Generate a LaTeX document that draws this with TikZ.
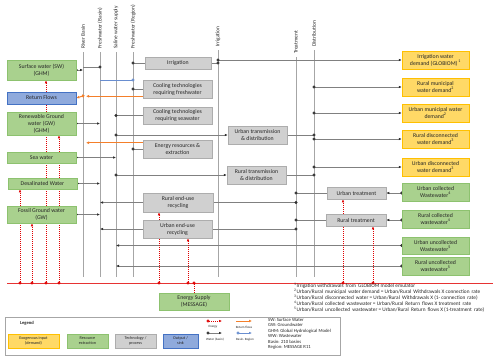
\documentclass[tikz,border=0pt]{standalone}
\usepackage{fontspec}
\setmainfont{Carlito}
\usepackage{xcolor}
\usepackage{tikz}
\usetikzlibrary{positioning,arrows.meta,calc,backgrounds}
\definecolor{wink}{HTML}{262626}
\definecolor{wwire}{HTML}{808080}
\definecolor{wdot}{HTML}{303030}
\definecolor{wbus}{HTML}{A6A6A6}
\definecolor{wgrn}{HTML}{A9D18E}
\definecolor{wgrnd}{HTML}{8DC26F}
\definecolor{wyel}{HTML}{FFD966}
\definecolor{wyeld}{HTML}{FFC000}
\definecolor{wgry}{HTML}{D0D0D0}
\definecolor{wgryd}{HTML}{ADADAD}
\definecolor{wblu}{HTML}{8FAADC}
\definecolor{wblud}{HTML}{4472C4}
\definecolor{wora}{HTML}{F47F2A}
\definecolor{wred}{HTML}{E00000}
\tikzset{
  >={Latex[length=3pt,width=2.6pt,color=wdot]},
  box/.style     ={draw=wgryd, fill=wgry, line width=0.5pt, inner sep=1pt, align=center,
                   text=wink, font=\fontsize{5.8}{7}\selectfont},
  gbox/.style    ={box, draw=wgrnd, fill=wgrn},
  ybox/.style    ={box, draw=wyeld, fill=wyel},
  bbox/.style    ={box, draw=wblud, fill=wblu},
  lbox/.style    ={font=\fontsize{4.2}{5}\selectfont, minimum height=14pt},
  buslabel/.style={rotate=90, anchor=west, inner sep=0pt, text=wink, font=\fontsize{5.4}{6}\selectfont},
  bus/.style     ={draw=wbus, line width=0.9pt},
  wire/.style    ={draw=wwire, line width=0.55pt},
  feed/.style    ={wire, {Circle[length=3pt,color=wdot]}->, shorten <=-1.5pt},
  tapline/.style ={wire, {Circle[length=3pt,color=wdot]}-, shorten <=-1.5pt},
  endline/.style ={wire, -{Circle[length=3pt,color=wdot]}, shorten >=-1.5pt},
  pipe/.style    ={wire, ->},
  eline/.style   ={draw=wred!80, line width=0.6pt},
  energy/.style  ={draw=wred, line width=0.6pt, dash pattern=on 1pt off 1pt,
                   {Circle[length=3pt]}-{Latex[length=3pt,width=2.6pt]}, shorten <=-1.5pt},
  esrc/.style    ={draw=wred, line width=0.6pt, dash pattern=on 1pt off 1pt,
                   {Circle[length=3pt]}-, shorten <=-1.5pt},
  rflow/.style   ={draw=wora, line width=1pt, -{Latex[length=3pt,width=2.8pt]}},
  rflowd/.style  ={rflow, {Circle[length=3pt]}-{Latex[length=3pt,width=2.8pt]}, shorten <=-1.5pt},
  bregion/.style ={draw=wblud!80, line width=0.6pt, -{Circle[length=3pt]}, shorten >=-1.5pt},
  bregionl/.style={draw=wblud!80, line width=0.6pt, {Circle[length=3pt]}-{Latex[length=3pt,width=2.6pt]},
                   shorten <=-1.5pt},
  ltext/.style   ={inner sep=0pt, text=wink, font=\fontsize{3.2}{4}\selectfont},
  note/.style    ={inner sep=0pt, align=left, text=wink},
}

\begin{document}
\begin{tikzpicture}[x=1pt, y=-1pt]
  \useasboundingbox (0,0) rectangle (500,360);
  \coordinate (rivb) at (83,52);
  \coordinate (fwb)  at (100,52);
  \coordinate (salb) at (116,52);
  \coordinate (fwr)  at (133,52);
  \coordinate (irrb) at (218,50);
  \coordinate (trtb) at (296,57);
  \coordinate (disb) at (314,50);
  \coordinate (busend) at (0,276.5);
  \coordinate (redL) at (7,283);
  \coordinate (redR) at (493,283);

  \node[buslabel] (rivbL) at ([yshift=3pt]rivb) {River Basin};
  \node[buslabel] (fwbL)  at ([yshift=3pt]fwb)  {Freshwater (Basin)};
  \node[buslabel] (salbL) at ([yshift=3pt]salb) {Saline water supply};
  \node[buslabel] (fwrL)  at ([yshift=3pt]fwr)  {Freshwater (Region)};
  \node[buslabel] (irrbL) at ([yshift=3pt]irrb) {Irrigation};
  \node[buslabel] (trtbL) at ([yshift=3pt]trtb) {Treatment};
  \node[buslabel] (disbL) at ([yshift=3pt]disb) {Distribution};

  \node[gbox, minimum width=69pt, minimum height=20pt] (sw)    at (41.5,70)    {Surface water (SW)\\(GHM)};
  \node[bbox, minimum width=69pt, minimum height=12pt] (rf)    at (41.5,98)    {Return Flows};
  \node[gbox, minimum width=69pt, minimum height=23pt] (rgw)   at (41.5,123.5) {Renewable Ground\\water (GW)\\(GHM)};
  \node[gbox, minimum width=69pt, minimum height=11pt] (sea)   at (41.5,157.5) {Sea water};
  \node[gbox, minimum width=69pt, minimum height=11pt] (desal) at (42.5,183.5) {Desalinated Water};
  \node[gbox, minimum width=69pt, minimum height=17pt] (fgw)   at (41.5,214.5) {Fossil Ground water\\(GW)};

  \node[box, minimum width=66pt, minimum height=12pt] (irr)   at (178,63)      {Irrigation};
  \node[box, minimum width=69pt, minimum height=18pt] (coolf) at (177.5,89)    {Cooling technologies\\requiring freshwater};
  \node[box, minimum width=69pt, minimum height=17pt] (cools) at (177.5,115.5) {Cooling technologies\\requiring seawater};
  \node[box, minimum width=69pt, minimum height=18pt] (enr)   at (177.5,149)   {Energy resources \&\\extraction};
  \node[box, minimum width=59pt, minimum height=18pt] (utd)   at (257.5,135)   {Urban transmission\\\& distribution};
  \node[box, minimum width=59pt, minimum height=18pt] (rtd)   at (256.5,175)   {Rural transmission\\\& distribution};
  \node[box, minimum width=70pt, minimum height=19pt] (reu)   at (178,202.5)   {Rural end-use\\recycling};
  \node[box, minimum width=69pt, minimum height=18pt] (ueu)   at (177.5,229)   {Urban end-use\\recycling};
  \node[box, minimum width=59pt, minimum height=12pt] (utr)   at (356.5,193)   {Urban treatment};
  \node[box, minimum width=60pt, minimum height=12pt] (rtr)   at (356,220)     {Rural treatment};

  \node[ybox, minimum width=67pt, minimum height=18pt] (iwd) at (435.5,60)    {Irrigation water\\demand (GLOBIOM)\,\textsuperscript{1}};
  \node[ybox, minimum width=67pt, minimum height=18pt] (rmd) at (435.5,87)    {Rural municipal\\water demand\textsuperscript{2}};
  \node[ybox, minimum width=67pt, minimum height=18pt] (umd) at (435.5,113)   {Urban municipal water\\demand\textsuperscript{2}};
  \node[ybox, minimum width=67pt, minimum height=18pt] (rdd) at (435.5,139)   {Rural disconnected\\water demand\textsuperscript{3}};
  \node[ybox, minimum width=67pt, minimum height=18pt] (udd) at (435.5,167)   {Urban disconnected\\water demand\textsuperscript{3}};
  \node[gbox, minimum width=67pt, minimum height=18pt] (ucw) at (435.5,192)   {Urban collected\\Wastewater\textsuperscript{4}};
  \node[gbox, minimum width=67pt, minimum height=18pt] (rcw) at (435.5,219)   {Rural collected\\wastewater\textsuperscript{4}};
  \node[gbox, minimum width=67pt, minimum height=17pt] (uuw) at (435.5,245.5) {Urban uncollected\\Wastewater\textsuperscript{5}};
  \node[gbox, minimum width=67pt, minimum height=18pt] (ruw) at (435.5,266)   {Rural uncollected\\wastewater\textsuperscript{5}};

  \node[gbox, minimum width=70pt, minimum height=17pt] (esup) at (194,301.5) {Energy Supply\\(MESSAGE)};

  \node[note, anchor=north west, font=\fontsize{5.3}{6}\selectfont] (fnotes) at (294,282.5)
    {\textsuperscript{1}Irrigation withdrawals\, from\, GLOBIOM model emulator\\
     \textsuperscript{2}Urban/Rural\, municipal\, water demand = Urban/Rural\, Withdrawals X connection\, rate\\
     \textsuperscript{3}Urban/Rural\, disconnected\, water = Urban/Rural\, Withdrawals X (1- connection\, rate)\\
     \textsuperscript{4}Urban/Rural\, collected\, wastewater = Urban/Rural\, Return\, flows X treatment\, rate\\
     \textsuperscript{5}Urban/Rural\, uncollected\, wastewater = Urban/Rural\, Return\, flows X (1-treatment\, rate)};

  \draw[draw=wbus, line width=0.5pt] (5,317) rectangle (340,355);
  \node[inner sep=0pt, text=wink, font=\bfseries\fontsize{4.6}{5}\selectfont] (lgdT) at (27,323) {Legend};
  \node[ybox, lbox, minimum width=51pt] (lexo)  at (33.5,341) {Exogenous input\\(demand)};
  \node[gbox, lbox, minimum width=41pt] (lres)  at (87.5,341) {Resource\\extraction};
  \node[box,  lbox, minimum width=41pt] (ltech) at (135.5,341) {Technology /\\process};
  \node[bbox, lbox, minimum width=35pt] (lout)  at (180.5,341) {Output /\\sink};
  \coordinate (leA) at (208,321);
  \coordinate (leB) at (222,321);
  \coordinate (lwA) at (208,333);
  \coordinate (lwB) at (222,333);
  \coordinate (lrA) at (236,321);
  \coordinate (lrB) at (252,321);
  \coordinate (lbA) at (238,333);
  \coordinate (lbB) at (252,333);
  \draw[energy] (leA) -- (leB);
  \draw[feed] (lwA) -- (lwB);
  \draw[rflow] (lrA) -- (lrB);
  \draw[bregionl] (lbA) -- (lbB);
  \node[ltext] (leT) at (213,327) {Energy};
  \node[ltext] (lwT) at (215,340) {Water (basin)};
  \node[ltext] (lrT) at (244,327) {Return flows};
  \node[ltext] (lbT) at (245,340) {Basin- Region};
  \node[note, anchor=north west, font=\fontsize{4.7}{5.4}\selectfont] (labbr) at (268,318)
    {SW: Surface Water\\GW: Groundwater\\GHM: Global Hydrological Model\\WW: Wastewater\\Basin: 210 basins\\Region: MESSAGE R11};

  \coordinate (cfo) at ($(coolf.south west)+(0,-2)$);
  \coordinate (rbo) at ($(rivb)+(0,44)$);
  \coordinate (eno) at ($(enr.north west)+(0,3)$);

  \begin{scope}[on background layer]
  \fill[white] (0,0) rectangle (500,360);
  \draw[bus] (rivb) -- (rivb |- busend);
  \draw[bus] (fwb)  -- (fwb |- busend);
  \draw[bus] (salb) -- (salb |- busend);
  \draw[bus] (fwr)  -- (fwr |- busend);
  \draw[bus] (irrb) -- (irrb |- busend);
  \draw[bus] (trtb) -- (trtb |- busend);
  \draw[bus] (disb) -- (disb |- busend);
  \draw[eline] (redL) -- (redR);

  \draw[feed] (sw.east) -- (sw.east -| rivb);
  \draw[endline] ($(rivb)+(0,15)$) -- ($(fwb)+(0,15)$);
  \draw[bregion] ($(fwb)+(0,28)$) -- ($(fwr)+(0,28)$);
  \draw[tapline] (irr.west -| fwr) -- (irr.west);
  \draw[tapline] (coolf.west -| fwr) -- (coolf.west);
  \draw[feed] (rgw.east) -- (rgw.east -| fwb);
  \draw[tapline] (cools.west -| salb) -- (cools.west);
  \draw[feed] (utd.west -| salb) -- (utd.west);
  \draw[tapline] (enr.west -| fwr) -- (enr.west);
  \draw[feed] (sea.east) -- (sea.east -| salb);
  \draw[feed] (rtd.west -| salb) -- (rtd.west);
  \draw[feed] (desal.east) -- (desal.east -| fwb);
  \draw[pipe] (reu.west) -- (reu.west -| fwb);
  \draw[feed] (fgw.east) -- (fgw.east -| fwb);
  \draw[pipe] (ueu.west) -- (ueu.west -| fwb);
  \draw[feed] (uuw.west) -- (uuw.west -| salb);
  \draw[feed] (ruw.west) -- (ruw.west -| salb);
  \draw[rflow] (cfo) -- ([xshift=3pt]cfo -| rivb);
  \draw[rflowd] (rbo) -- (rf.east);
  \draw[rflow] (eno) -- ([xshift=3pt]eno -| rivb);

  \draw[endline] (irr.east) -- (irr.east -| irrb);
  \draw[feed] (iwd.west -| irrb) -- (iwd.west);
  \draw[feed] (rmd.west -| disb) -- (rmd.west);
  \draw[feed] (umd.west -| disb) -- (umd.west);
  \draw[endline] (utd.east) -- (utd.east -| disb);
  \draw[feed] (rdd.west -| disb) -- (rdd.west);
  \draw[feed] (udd.west -| disb) -- (udd.west);
  \draw[endline] (rtd.east) -- (rtd.east -| disb);
  \draw[tapline] (utr.west -| trtb) -- (utr.west);
  \draw[endline] (reu.east) -- (reu.east -| trtb);
  \draw[tapline] (rtr.west -| trtb) -- (rtr.west);
  \draw[endline] (ueu.east) -- (ueu.east -| trtb);
  \draw[feed] (ucw.west |- utr.east) -- (utr.east);
  \draw[feed] (rcw.west |- rtr.east) -- (rtr.east);

  \coordinate (tdes) at (20,283);
  \coordinate (tfgw) at (32,283);
  \coordinate (tsw)  at (46,283);
  \coordinate (trgw) at (59,283);
  \coordinate (treu) at (159,283);
  \coordinate (tueu) at (188,283);
  \coordinate (tesp) at (194,283);
  \coordinate (tutr) at (343,283);
  \coordinate (trtr) at (373,283);
  \draw[energy] (tdes) -- (tdes |- desal.south);
  \draw[energy] (tfgw) -- (tfgw |- fgw.south);
  \draw[energy] (tsw)  -- (tsw |- sw.south);
  \draw[energy] (trgw) -- (trgw |- rgw.south);
  \draw[energy] (treu) -- (treu |- reu.south);
  \draw[energy] (tueu) -- (tueu |- ueu.south);
  \draw[esrc]   (tesp) -- (tesp |- esup.north);
  \draw[energy] (tutr) -- (tutr |- utr.south);
  \draw[energy] (trtr) -- (trtr |- rtr.south);
  \end{scope}
\end{tikzpicture}
\end{document}
